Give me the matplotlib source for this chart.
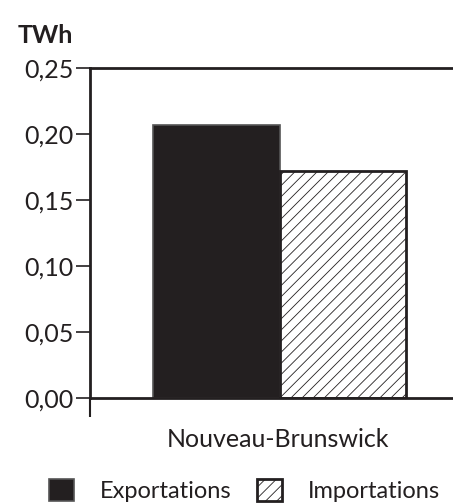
import matplotlib
matplotlib.use("Agg")
import matplotlib.pyplot as plt
import numpy as np

# Data
category = "Nouveau-Brunswick"
series = ["Exportations", "Importations"]
values = [0.207, 0.172]
yticks = [0.00, 0.05, 0.10, 0.15, 0.20, 0.25]
ytick_labels = ["0,00", "0,05", "0,10", "0,15", "0,20", "0,25"]

plt.rcParams['font.family'] = ['Lato', 'DejaVu Sans']
plt.rcParams['hatch.linewidth'] = 0.6
plt.rcParams['hatch.color'] = '#333333'

fig = plt.figure(figsize=(4.53, 5.04), dpi=100)
ax = fig.add_axes([0.1987, 0.2103, 0.81, 0.655])

x = np.array([-0.5, 0.5])
b1 = ax.bar(x[0], values[0], width=1.0, color='#231f20', edgecolor='#555555',
            linewidth=1.2, label=series[0])
b2 = ax.bar(x[1], values[1], width=1.0, color='white', edgecolor='#231f20',
            linewidth=2.0, hatch='///', label=series[1])

ax.set_xlim(-1.5, 1.4)
ax.set_ylim(0, 0.25)
ax.set_yticks(yticks)
ax.set_yticklabels(ytick_labels, fontsize=18, color='#231f20')
ax.tick_params(axis='y', length=10, width=1.2, color='#231f20', pad=2)

# tick at left edge to extend the y axis downward
ax.set_xticks([-1.5])
ax.set_xticklabels([""])
ax.tick_params(axis='x', length=14, width=1.5, color='#231f20')

ax.spines['right'].set_visible(False)
for s in ['left', 'top', 'bottom']:
    ax.spines[s].set_linewidth(2.0)
    ax.spines[s].set_color('#231f20')

fig.text(0.0397, 0.93, "TWh", fontsize=18, fontweight='bold', color='#231f20',
         ha='left', va='center')
fig.text(0.614, 0.127, category, fontsize=18, color='#231f20',
         ha='center', va='center')

fig.legend(handles=[b1, b2], labels=series, loc='center', ncol=2,
           bbox_to_anchor=(0.54, 0.027), frameon=False, fontsize=17,
           handlelength=1.05, handleheight=1.05, handletextpad=1.1,
           columnspacing=1.1, borderpad=0, labelcolor='#231f20')

fig.savefig("out.png", dpi=100)
